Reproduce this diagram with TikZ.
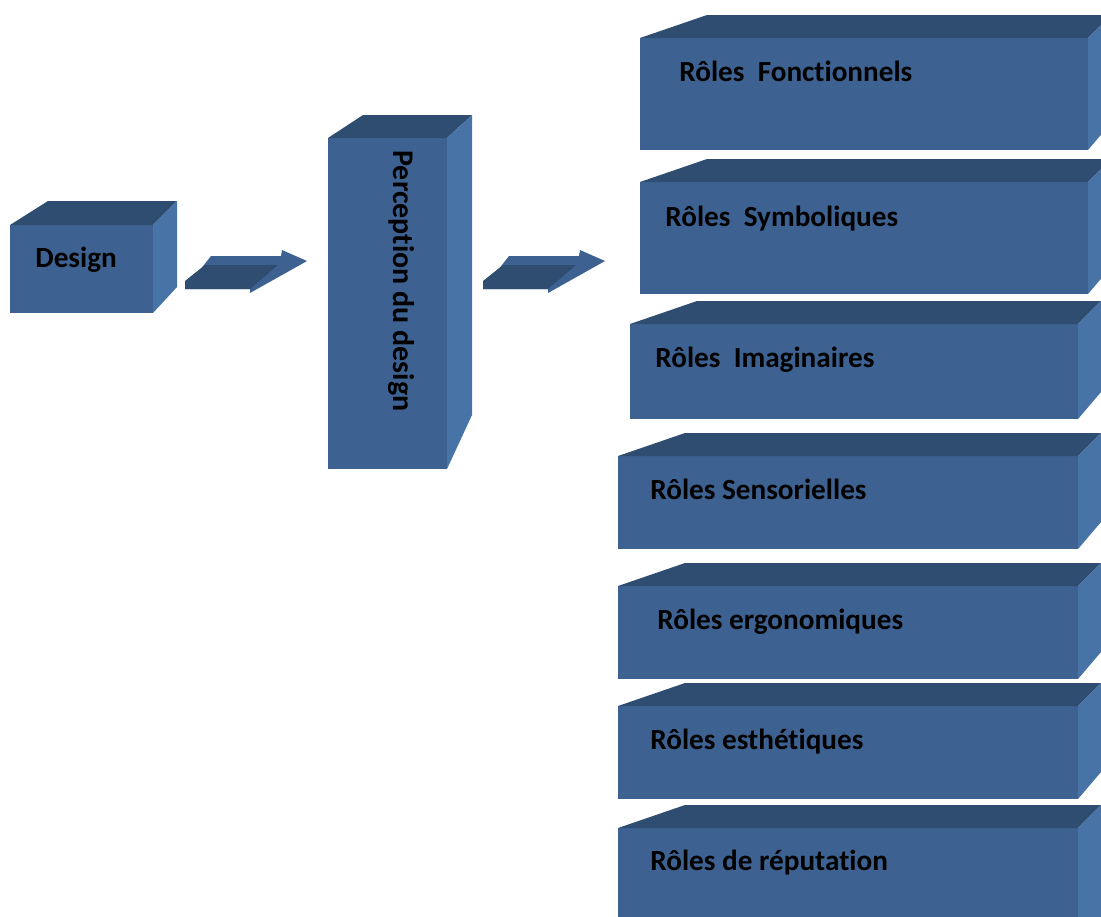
\documentclass[tikz,border=0pt]{standalone}
\usepackage{fontspec}
\setmainfont{Carlito}[Ligatures=NoCommon]
\definecolor{faceblue}{RGB}{61,98,145}
\definecolor{topblue}{RGB}{47,77,112}
\definecolor{sideblue}{RGB}{71,115,167}
\tikzset{
  frontface/.style={fill=faceblue},
  topface/.style={fill=topblue},
  sideface/.style={fill=sideblue},
  roletext/.style={font=\bfseries\fontsize{14.6}{16}\selectfont, text=black, inner sep=0pt},
}
\begin{document}
\begin{tikzpicture}[x=0.5pt, y=-0.5pt]
    \useasboundingbox (0,0) rectangle (1101,916);
    \clip (0,0) rectangle (1101,916);

    % Design box
    \fill[frontface] (10,225) rectangle (153,313);
    \fill[topface] (10,225) -- (48,201) -- (177,201) -- (153,225) -- cycle;
    \fill[sideface] (153,225) -- (177,201) -- (177,287) -- (153,313) -- cycle;
    \node[roletext, anchor=base west] (design) at (35,267) {Design};

    % Perception box
    \fill[frontface] (328,138) rectangle (447,469);
    \fill[topface] (328,138) -- (363,115) -- (472,115) -- (447,138) -- cycle;
    \fill[sideface] (447,138) -- (472,115) -- (472,415) -- (447,469) -- cycle;
    \node[roletext, font=\bfseries\fontsize{15}{16}\selectfont, rotate=-90] (perception) at (401,281) {Perception du design};

    % Block arrows
    \foreach \dx in {0,298} {
        \begin{scope}[shift={(\dx,0)}]
            \fill[frontface] (185,289) -- (211,256) -- (281,256) -- (282,250) -- (307,261) -- (250,293) -- (250,289) -- cycle;
            \fill[topface] (185,289) -- (185,281) -- (205,265) -- (278,265) -- (250,289) -- cycle;
        \end{scope}
    }

    % Roles
    \foreach \xl/\xr/\yt/\yb/\tx/\ty/\txt [count=\i] in {
        640/1088/38/150/679/81/{Rôles\ \ Fonctionnels},
        640/1088/182/294/665/226/{Rôles\ \ Symboliques},
        630/1078/324/419/655/367/{Rôles\ \ Imaginaires},
        618/1078/456/549/650/499/{Rôles Sensorielles},
        618/1078/586/679/657/629/{Rôles ergonomiques},
        618/1078/706/799/650/749/{Rôles esthétiques},
        618/1078/828/960/650/870/{Rôles de réputation}} {
        \fill[frontface] (\xl,\yt) rectangle (\xr,\yb);
        \fill[topface] (\xl,\yt) -- (\xl+67,\yt-23) -- (\xr+23,\yt-23) -- (\xr,\yt) -- cycle;
        \fill[sideface] (\xr,\yt) -- (\xr+23,\yt-23) -- (\xr+23,\yb-27) -- (\xr,\yb) -- cycle;
        \node[roletext, anchor=base west] (role\i) at (\tx,\ty) {\txt};
    }
\end{tikzpicture}
\end{document}
